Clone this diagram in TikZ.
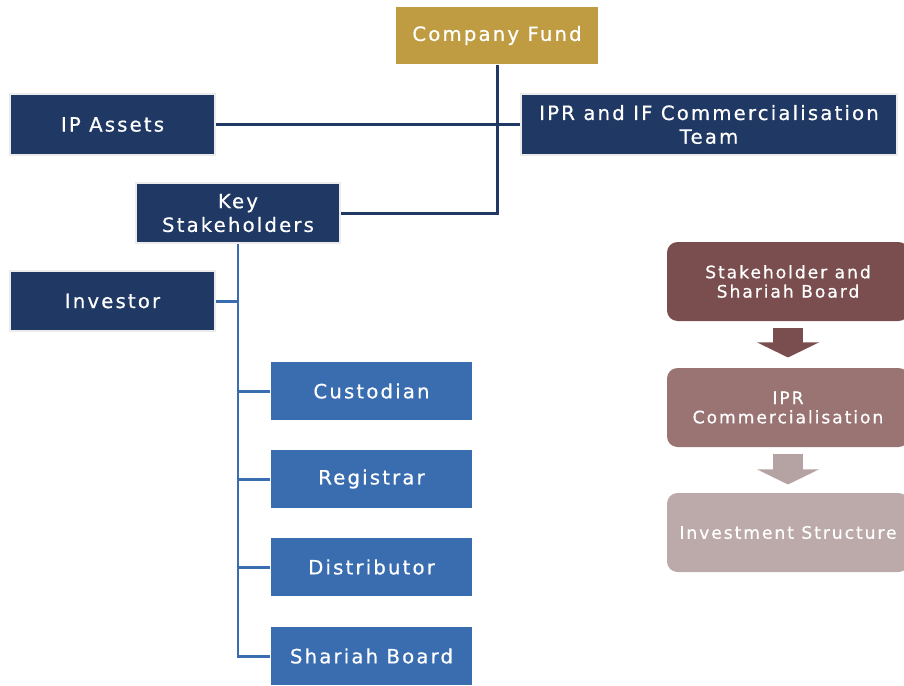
\documentclass[tikz,border=0pt]{standalone}
\usepackage{fontspec}
\setmainfont{DejaVu Sans}[LetterSpace=11, FakeBold=0.6]
\usepackage{xcolor}
\usepackage{tikz}
\usetikzlibrary{arrows.meta,positioning,calc}

\definecolor{navy}{HTML}{1F3864}
\definecolor{midblue}{HTML}{3A6DB0}
\definecolor{gold}{HTML}{BF9B42}
\definecolor{brownA}{HTML}{7A4E4E}
\definecolor{brownB}{HTML}{9A7373}
\definecolor{brownC}{HTML}{BCAAAA}
\definecolor{arrowB}{HTML}{B5A3A3}

\tikzset{
    box/.style={rectangle, text=white, align=center, inner sep=2pt,
        draw=gray!15, line width=0.6pt, font=\fontsize{11.2}{13.5}\selectfont},
    navybox/.style={box, fill=navy, minimum width=4.1cm, minimum height=1.22cm},
    bluebox/.style={box, fill=midblue, draw=none, minimum width=4.02cm, minimum height=1.16cm},
    flowbox/.style={box, draw=none, rounded corners=6pt, minimum width=4.84cm, minimum height=1.58cm,
        font=\fontsize{9.8}{11}\selectfont},
    navyline/.style={navy, line width=1.7pt},
    blueline/.style={midblue, line width=1.7pt},
    flowarrow/.style={line width=0.6cm, -{Triangle[length=0.3cm, width=1.22cm]}},
}

\begin{document}
\begin{tikzpicture}
            \useasboundingbox (0,0) rectangle (18.08,-13.7);

            % top part of the chart
            \node[box, fill=gold, draw=none, minimum width=4.04cm, minimum height=1.14cm] (fund) at (9.94,-0.71) {Company Fund};
            \node[navybox] (ipa) at (2.25,-2.49) {IP Assets};
            \node[navybox, minimum width=7.52cm] (iprt) at (14.18,-2.49) {IPR and IF Commercialisation\\Team};
            \node[navybox, minimum width=4.08cm, minimum height=1.2cm] (key) at (4.76,-4.26) {Key\\Stakeholders};
            \node[navybox, minimum height=1.2cm] (inv) at (2.25,-6.02) {Investor};

            \draw[navyline] (ipa.east) -- (iprt.west);
            \draw[navyline] (fund.south) |- (key.east);

            % stakeholders below
            \node[bluebox] (cust) at (7.43,-7.82) {Custodian};
            \node[bluebox] (reg) at (7.43,-9.58) {Registrar};
            \node[bluebox] (dist) at (7.43,-11.34) {Distributor};
            \node[bluebox] (shb) at (7.43,-13.12) {Shariah Board};

            \draw[blueline] (key.south) |- (shb.west);
            \draw[blueline] (inv.east) -- (inv.east -| key.south);
            \draw[blueline] (cust.west) -- (cust.west -| key.south);
            \draw[blueline] (reg.west) -- (reg.west -| key.south);
            \draw[blueline] (dist.west) -- (dist.west -| key.south);

            % flow on the right
            \node[flowbox, fill=brownA] (sab) at (15.76,-5.63) {Stakeholder and\\Shariah Board};
            \node[flowbox, fill=brownB] (iprc) at (15.76,-8.15) {IPR\\Commercialisation};
            \node[flowbox, fill=brownC] (invs) at (15.76,-10.65) {Investment Structure};

            \draw[flowarrow, brownA] ($(sab.south)+(0,-0.12)$) -- ($(iprc.north)+(0,0.2)$);
            \draw[flowarrow, arrowB] ($(iprc.south)+(0,-0.12)$) -- ($(invs.north)+(0,0.16)$);
        \end{tikzpicture}
\end{document}
